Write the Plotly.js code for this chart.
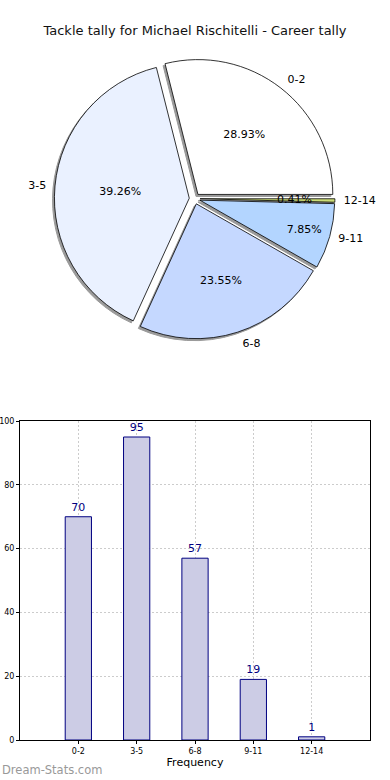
<!DOCTYPE html>
<html>
<head>
<meta charset="utf-8">
<script src="https://cdn.plot.ly/plotly-3.0.1.min.js"></script>
<style>html,body{margin:0;padding:0;background:#fff}#chart{width:390px;height:780px}</style>
</head>
<body>
<div id="chart"></div>
<script>
const categories = ['0-2', '3-5', '6-8', '9-11', '12-14'];
const tackles = [70, 95, 57, 19, 1];
const sliceColors = ['#FFFFFF', '#EAF1FF', '#C5D8FF', '#B3D5FF', '#CCDD77'];
const yTicks = [0, 20, 40, 60, 80, 100];
const chartTitle = 'Tackle tally for Michael Rischitelli - Career tally';

// first slice starts at 3 o'clock and runs counterclockwise
const total = tackles.reduce((a, b) => a + b, 0);
const startRotation = 90 - tackles[0] / total * 360;
const pctFmt = '%{percent:.2%}';
const thinSlice = tackles.map(v => v / total < 0.02);

function scaledDomain(dom, k) {
  const cx = (dom.x[0] + dom.x[1]) / 2, cy = (dom.y[0] + dom.y[1]) / 2;
  const hx = (dom.x[1] - dom.x[0]) / 2 * k, hy = (dom.y[1] - dom.y[0]) / 2 * k;
  return {x: [cx - hx, cx + hx], y: [cy - hy, cy + hy]};
}

const pieDomain = {x: [0.098, 0.900], y: [0.542, 0.921]};
const shadowDomain = {x: [0.0925, 0.8945], y: [0.5393, 0.9183]};
const pieCommon = {
  type: 'pie', labels: categories, values: tackles, sort: false,
  direction: 'counterclockwise', rotation: startRotation, pull: 0.04,
  hoverinfo: 'skip', showlegend: false
};

const shadow = Object.assign({}, pieCommon, {
  domain: shadowDomain,
  marker: {colors: categories.map(() => '#9a9a9a'), line: {color: '#9a9a9a', width: 1}},
  textinfo: 'none'
});
const pieMain = Object.assign({}, pieCommon, {
  domain: pieDomain,
  marker: {colors: sliceColors, line: {color: '#000000', width: 0.8}},
  texttemplate: thinSlice.map(t => t ? '' : pctFmt), textposition: 'inside',
  insidetextorientation: 'horizontal',
  textfont: {family: 'DejaVu Sans', size: 11, color: '#000000'}
});
// thin slice percentage drawn on a smaller transparent copy so it sits at ~0.6 radius
const pieThinPct = Object.assign({}, pieCommon, {
  domain: scaledDomain(pieDomain, 0.72),
  marker: {colors: categories.map(() => 'rgba(0,0,0,0)'), line: {width: 0}},
  texttemplate: thinSlice.map(t => t ? pctFmt : ''), textposition: 'inside',
  insidetextorientation: 'horizontal',
  textfont: {family: 'DejaVu Sans', size: 11, color: '#000000'}
});
const pieLabels = Object.assign({}, pieCommon, {
  domain: scaledDomain(pieDomain, 1.04),
  marker: {colors: categories.map(() => 'rgba(0,0,0,0)'), line: {width: 0}},
  texttemplate: '%{label}', textposition: 'outside',
  outsidetextfont: {family: 'DejaVu Sans', size: 11, color: '#000000'}
});

const bars = {
  type: 'bar', x: categories, y: tackles, width: 0.45,
  xaxis: 'x', yaxis: 'y',
  marker: {color: '#CCCCE5', line: {color: '#000080', width: 1}},
  text: tackles.map(String), textposition: 'outside', cliponaxis: false,
  textfont: {family: 'DejaVu Sans', size: 11, color: '#000080'},
  hoverinfo: 'skip', showlegend: false
};

const layout = {
  width: 390, height: 780,
  margin: {l: 20, r: 20, t: 0, b: 40},
  paper_bgcolor: '#ffffff', plot_bgcolor: '#ffffff',
  font: {family: 'DejaVu Sans', color: '#000000'},
  title: {text: chartTitle, x: 0.5, xanchor: 'center', y: 1 - 30/780, yref: 'container', yanchor: 'middle',
          font: {family: 'DejaVu Sans', size: 13, color: '#111111'}},
  uniformtext: {minsize: 11, mode: 'show'},
  xaxis: {
    domain: [0, 1], anchor: 'y', type: 'category', range: [-1, 5],
    showline: true, mirror: true, linecolor: '#000000', linewidth: 1,
    showgrid: true, gridcolor: '#cccccc', griddash: '2px,2px', gridwidth: 1,
    ticks: 'outside', ticklen: 3, tickcolor: '#000000',
    tickfont: {family: 'DejaVu Sans', size: 8, color: '#000000'},
    title: {text: 'Frequency', font: {family: 'DejaVu Sans', size: 11, color: '#000000'}, standoff: 3},
    zeroline: false, fixedrange: true
  },
  yaxis: {
    domain: [0, 0.431], anchor: 'x', range: [0, 100],
    tickvals: yTicks, ticktext: yTicks.map(String),
    showline: true, mirror: true, linecolor: '#000000', linewidth: 1,
    showgrid: true, gridcolor: '#cccccc', griddash: '2px,2px', gridwidth: 1,
    ticks: 'outside', ticklen: 3, tickcolor: '#000000',
    tickfont: {family: 'DejaVu Sans', size: 8, color: '#000000'},
    zeroline: false, fixedrange: true
  },
  annotations: [{
    text: 'Dream-Stats.com', xref: 'paper', yref: 'paper',
    x: -20/350, y: -30/740, xanchor: 'left', yanchor: 'middle', showarrow: false,
    font: {family: 'DejaVu Sans', size: 11.5, color: '#999999'}
  }]
};

Plotly.newPlot('chart', [shadow, pieMain, pieThinPct, pieLabels, bars], layout, {displayModeBar: false, staticPlot: true});
</script>
</body>
</html>
